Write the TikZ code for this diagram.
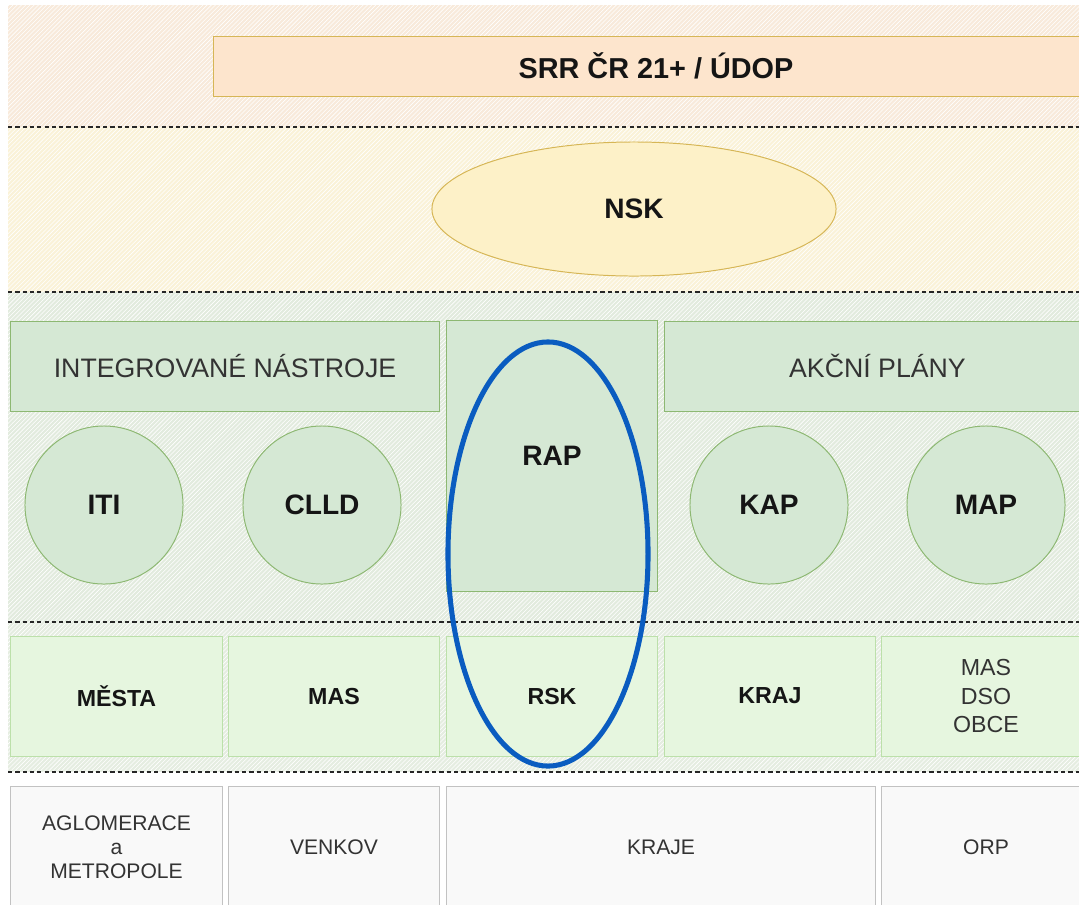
\documentclass[tikz,border=0pt]{standalone}
\usepackage{fontspec}
\setmainfont{Liberation Sans}
\usetikzlibrary{shapes.geometric,patterns}
\definecolor{bandA}{HTML}{F8EADB}
\definecolor{bandB}{HTML}{FAF2D8}
\definecolor{bandC}{HTML}{E2EBDE}
\definecolor{bandD}{HTML}{E5EDE1}
\definecolor{srrfill}{HTML}{FDE5CD}
\definecolor{goldline}{HTML}{D6B656}
\definecolor{nskfill}{HTML}{FDF1C8}
\definecolor{gfill}{HTML}{D5E8D4}
\definecolor{gline}{HTML}{8DB872}
\definecolor{lgfill}{HTML}{E6F6DF}
\definecolor{lgline}{HTML}{BCE0AA}
\definecolor{wfill}{HTML}{F9F9F9}
\definecolor{wline}{HTML}{C2C2C2}
\definecolor{txt}{HTML}{333333}
\definecolor{btxt}{HTML}{151515}
\definecolor{focusblue}{HTML}{0A5CC0}
\begin{document}
\begin{tikzpicture}[x=0.025cm,y=-0.025cm,
  band/.style={pattern=north east lines,pattern color=white},
  sep/.style={dashed,line width=0.9pt,dash pattern=on 3pt off 2.2pt,black!85},
  topbox/.style={draw=goldline,fill=srrfill,line width=0.7pt,inner sep=0pt,text=btxt,
    font=\fontsize{20.5pt}{24pt}\selectfont\bfseries},
  nskshape/.style={ellipse,draw=goldline,fill=nskfill,line width=0.7pt,inner sep=0pt,text=btxt,
    font=\fontsize{20pt}{24pt}\selectfont\bfseries},
  headbox/.style={draw=gline,fill=gfill,line width=0.7pt,inner sep=0pt,text=txt,
    font=\fontsize{19pt}{22pt}\selectfont},
  rapbox/.style={draw=gline,fill=gfill,line width=0.7pt,inner sep=0pt,text=btxt,
    font=\fontsize{20pt}{24pt}\selectfont\bfseries},
  tool/.style={circle,draw=gline,fill=gfill,line width=0.7pt,inner sep=0pt,
    minimum size=3.95cm,text=btxt,font=\fontsize{20pt}{24pt}\selectfont\bfseries},
  actor/.style={draw=lgline,fill=lgfill,line width=0.7pt,inner sep=0pt,minimum height=3cm,
    text=btxt,font=\fontsize{16.5pt}{20pt}\selectfont\bfseries},
  actorreg/.style={draw=lgline,fill=lgfill,line width=0.7pt,inner sep=0pt,minimum height=3cm,
    text=txt,align=center,font=\fontsize{16.5pt}{20.3pt}\selectfont},
  area/.style={draw=wline,fill=wfill,line width=0.7pt,inner sep=0pt,minimum height=3.05cm,
    text=txt,align=center,font=\fontsize{15pt}{17pt}\selectfont},
  focus/.style={ellipse,draw=focusblue,line width=3.6pt,inner sep=0pt}
]
\clip (0,0) rectangle (1079,904);
% background bands
\fill[white] (0,0) rectangle (1079,904);
\fill[bandA] (8,5) rectangle (1079,127);
\fill[band] (8,5) rectangle (1079,127);
\fill[bandB] (8,127) rectangle (1079,292);
\fill[band] (8,127) rectangle (1079,292);
\fill[bandC] (8,292) rectangle (1079,622);
\fill[band] (8,292) rectangle (1079,622);
\fill[bandD] (8,622) rectangle (1079,772);
\fill[band] (8,622) rectangle (1079,772);
% separators
\draw[sep] (8,127) -- (1079,127);
\draw[sep] (8,292) -- (1079,292);
\draw[sep] (8,622) -- (1079,622);
\draw[sep] (8,772) -- (1079,772);
% top level
\node[topbox,minimum width=22.1cm,minimum height=1.5cm] (srr) at (656,66) {SRR ČR 21+ / ÚDOP};
\node[nskshape,minimum width=10.1cm,minimum height=3.35cm] (nsk) at (634,209) {NSK};
% instruments
\node[headbox,minimum width=10.7cm,minimum height=2.25cm] (intg) at (225,366) {INTEGROVANÉ NÁSTROJE};
\node[rapbox,minimum width=5.25cm,minimum height=6.75cm] (rap) at (552,456) {RAP};
\node[headbox,minimum width=10.625cm,minimum height=2.25cm] (akc) at (877.5,366) {AKČNÍ PLÁNY};
\node[tool] (iti) at (104,505) {ITI};
\node[tool] (clld) at (322,505) {CLLD};
\node[tool] (kap) at (769,505) {KAP};
\node[tool] (map) at (986,505) {MAP};
% actors
\node[actor,minimum width=5.275cm] (mesta) at (116.5,696) {MĚSTA};
\node[actor,minimum width=5.25cm] (mas) at (334,696) {MAS};
\node[actor,minimum width=5.25cm] (rsk) at (552,696) {RSK};
\node[actor,minimum width=5.25cm] (kraj) at (770,696) {KRAJ};
\node[actorreg,minimum width=5.2cm] (mdo) at (986,696) {MAS\\DSO\\OBCE};
% territories
\node[area,minimum width=5.275cm] (aglo) at (116.5,847) {AGLOMERACE\\a\\METROPOLE};
\node[area,minimum width=5.25cm] (venkov) at (334,847) {VENKOV};
\node[area,minimum width=10.7cm] (kraje) at (661,847) {KRAJE};
\node[area,minimum width=5.2cm] (orp) at (986,847) {ORP};
% highlight
\node[focus,minimum width=5.0cm,minimum height=10.6cm] (hl) at (548,554) {};
\end{tikzpicture}
\end{document}
